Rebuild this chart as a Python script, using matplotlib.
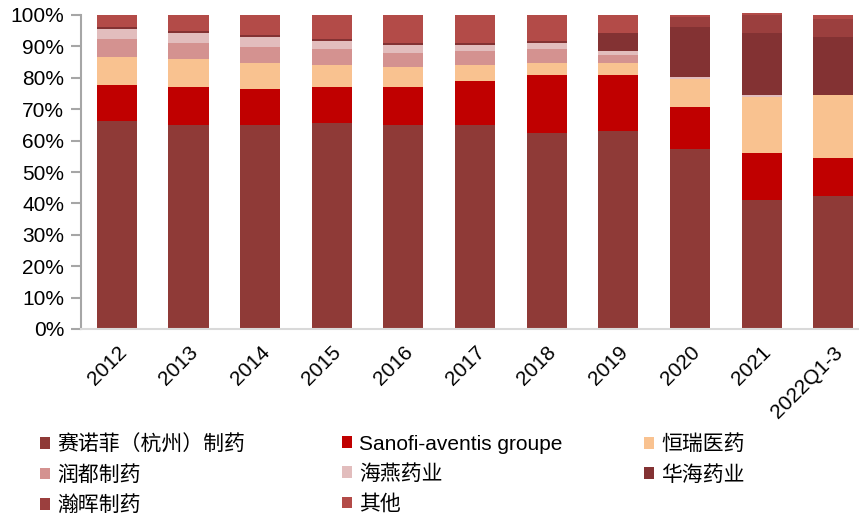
import matplotlib.pyplot as plt
import numpy as np

plt.rcParams['font.family'] = ['Liberation Sans', 'Noto Sans CJK SC']

years = ['2012', '2013', '2014', '2015', '2016', '2017', '2018', '2019',
         '2020', '2021', '2022Q1-3']

# share of each company, percent (bottom to top)
sainuofei = [66.1, 64.9, 64.9, 65.5, 64.9, 64.9, 62.3, 62.9, 57.2, 41.2, 42.5]
sanofi = [11.5, 12.1, 11.5, 11.5, 12.1, 14.0, 18.5, 17.9, 13.4, 14.7, 12.1]
hengrui = [9.0, 8.9, 8.3, 7.0, 6.4, 5.1, 3.9, 3.9, 9.0, 17.9, 19.8]
rundu = [5.7, 5.2, 5.1, 5.1, 4.5, 4.5, 4.4, 2.5, 0.0, 0.0, 0.0]
haiyan = [3.2, 3.1, 3.2, 2.6, 2.5, 1.9, 2.0, 1.3, 0.6, 0.6, 0.0]
huahai = [0.7, 0.7, 0.6, 0.6, 0.7, 0.7, 0.6, 5.7, 16.0, 19.8, 18.6]
hanhui = [0.0, 0.0, 0.0, 0.0, 0.0, 0.0, 0.0, 0.0, 3.2, 5.8, 5.7]
others = [3.8, 5.1, 6.4, 7.7, 8.9, 8.9, 8.3, 5.8, 0.6, 0.6, 1.3]

series = [
    ('赛诺菲（杭州）制药', sainuofei, '#8F3A37'),
    ('Sanofi-aventis groupe', sanofi, '#C00000'),
    ('恒瑞医药', hengrui, '#F9C290'),
    ('润都制药', rundu, '#D49290'),
    ('海燕药业', haiyan, '#E2BDBD'),
    ('华海药业', huahai, '#833233'),
    ('瀚晖制药', hanhui, '#9B3F3E'),
    ('其他', others, '#B34B48'),
]

fig = plt.figure(figsize=(8.59, 5.15), dpi=100)
ax = fig.add_axes([81 / 859, 186 / 515, 778 / 859, 314 / 515])

x = np.arange(len(years))
bottom = np.zeros(len(years))
handles = {}
for name, vals, color in series:
    vals = np.array(vals)
    bars = ax.bar(x, vals, 0.56, bottom=bottom, color=color, label=name,
                  clip_on=False, zorder=2)
    handles[name] = bars
    bottom += vals

ax.set_xlim(-0.5, 10.36)
ax.set_ylim(0, 100)
ax.set_yticks(np.arange(0, 101, 10))
ax.set_yticklabels([f'{v}%' for v in range(0, 101, 10)], fontsize=15)
ax.set_xticks(x)
ax.set_xticklabels(years, rotation=45, ha='right', rotation_mode='anchor',
                   fontsize=15)
ax.tick_params(axis='x', length=0, pad=10)
ax.tick_params(axis='y', length=7, width=1.5, color='#A6A6A6', pad=5)

for s in ['top', 'right']:
    ax.spines[s].set_visible(False)
ax.spines['left'].set_color('#A6A6A6')
ax.spines['left'].set_linewidth(1.5)
ax.spines['bottom'].set_color('#D9D9D9')
ax.spines['bottom'].set_linewidth(1.5)

# legend: three columns placed at fixed x positions
columns = [
    (['赛诺菲（杭州）制药', '润都制药', '瀚晖制药'], 25),
    (['Sanofi-aventis groupe', '海燕药业', '其他'], 327),
    (['恒瑞医药', '华海药业'], 629),
]
for names, xpos in columns:
    leg = fig.legend([handles[n] for n in names], names, loc='upper left',
                     bbox_to_anchor=(xpos / 859, 1 - 420 / 515), frameon=False,
                     fontsize=15, handlelength=0.5, handleheight=0.5,
                     handletextpad=0.35, labelspacing=0.5, borderpad=0.2)

fig.savefig('out.png', dpi=100)
